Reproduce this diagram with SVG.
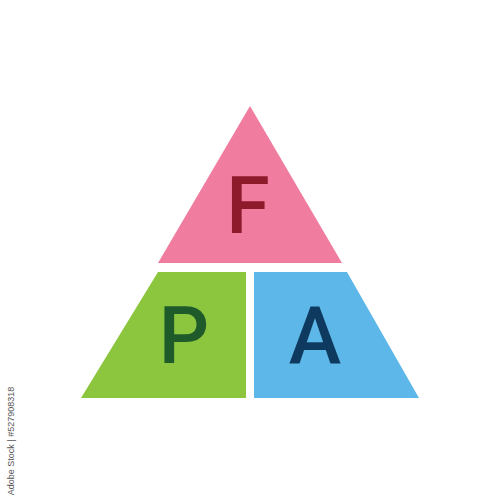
<svg xmlns="http://www.w3.org/2000/svg" width="500" height="500" viewBox="0 0 500 500">
<style>
.lbl{font-family:Roboto,"Liberation Sans",Arial,sans-serif;font-weight:500;font-size:79px;text-anchor:middle}
.wm{font-family:"Liberation Sans",Arial,sans-serif;font-size:9px;fill:#555;text-anchor:middle}
</style>
<rect width="500" height="500" fill="#ffffff"/>
<g id="node-F">
<polygon points="250,106 342,263 158,263" fill="#f07ca0"/>
<text class="lbl" x="248" y="233" fill="#8c1a2b">F</text>
</g>
<g id="node-P">
<polygon points="158,272 246,272 246,398 81,398" fill="#8cc63f"/>
<text class="lbl" x="184" y="363" fill="#1e5a2a">P</text>
</g>
<g id="node-A">
<polygon points="254,272 347,272 419,398 254,398" fill="#5db7e8"/>
<text class="lbl" x="315" y="363" fill="#0f3a5f">A</text>
</g>
<g id="connectors"/>
<text class="wm" transform="translate(14,441) rotate(-90)">Adobe Stock | #527908318</text>
</svg>
